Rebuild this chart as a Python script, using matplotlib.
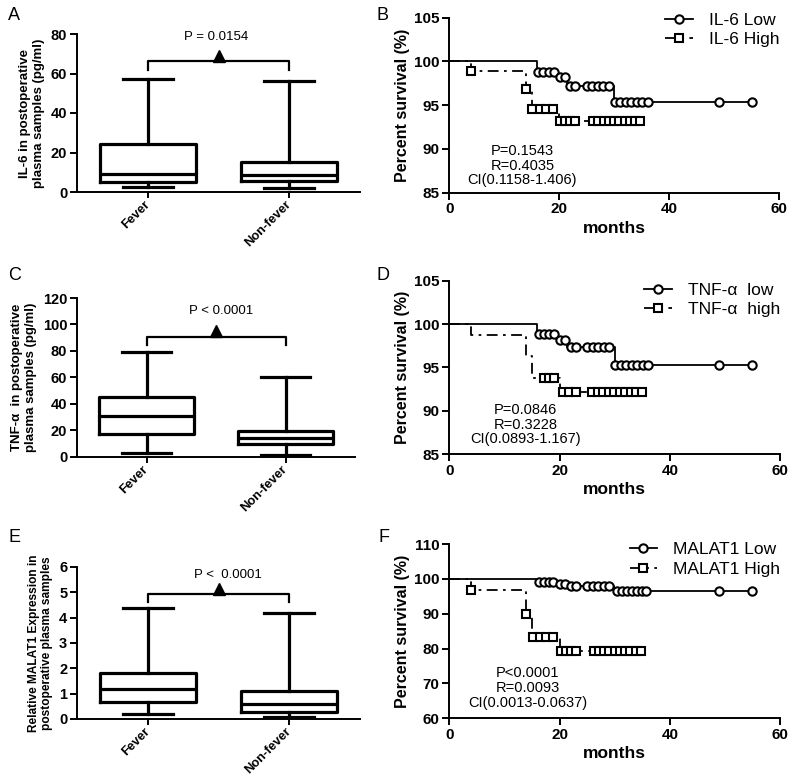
import matplotlib
matplotlib.use('Agg')
import matplotlib.pyplot as plt
import matplotlib.transforms as mtransforms
from matplotlib.lines import Line2D
import numpy as np

plt.rcParams['font.family'] = ['Liberation Sans', 'DejaVu Sans']

W, H = 796, 778

# ---- box plot data (Fever, Non-fever) ----
groups = ['Fever', 'Non-fever']

il6_lo = [2.5, 1.9]
il6_q1 = [5.1, 5.4]
il6_med = [9.2, 8.5]
il6_q3 = [24.4, 15.1]
il6_hi = [57, 56]

tnf_lo = [2.5, 1.5]
tnf_q1 = [17.5, 9.3]
tnf_med = [30.5, 14.3]
tnf_q3 = [45.5, 19.5]
tnf_hi = [79.5, 60]

malat_lo = [0.21, 0.09]
malat_q1 = [0.69, 0.29]
malat_med = [1.2, 0.6]
malat_q3 = [1.81, 1.12]
malat_hi = [4.4, 4.2]

# ---- survival data: event times, survival after event, marked (censored) times ----
il6_low_t = [16, 19.6, 21.4, 30]
il6_low_s = [98.8, 98.2, 97.2, 95.4]
il6_low_c = [16.2, 17.1, 18.1, 19.0, 20.2, 21.0, 22.0, 22.9, 25, 26, 27, 28, 29,
             30.1, 31.1, 32.1, 33.1, 34.1, 35.1, 36.1, 49, 55]
il6_high_t = [4, 14, 15, 20]
il6_high_s = [98.9, 96.8, 94.6, 93.2]
il6_high_c = [4, 14, 15.1, 16.4, 17.6, 18.9, 20.2, 21.1, 22.0, 22.9,
              26.2, 27.1, 28.1, 29.0, 30.0, 30.9, 31.9, 32.8, 33.8, 34.7]

tnf_low_t = [16, 19.6, 21.4, 30]
tnf_low_s = [98.85, 98.15, 97.35, 95.3]
tnf_low_c = [16.2, 17.1, 18.1, 19.0, 20.1, 21.0, 22.0, 22.9, 25, 26, 27, 28, 29,
             30.1, 31.1, 32.1, 33.1, 34.1, 35.1, 36.1, 49, 55]
tnf_high_t = [4, 14, 15, 20]
tnf_high_s = [98.75, 96.3, 93.75, 92.15]
tnf_high_c = [17.1, 18.0, 19.0, 20.6, 21.8, 23.0,
              25.9, 26.9, 27.9, 28.9, 29.9, 30.9, 31.9, 32.9, 33.9, 35.0]

malat_low_t = [16, 19.6, 21.4, 29.8]
malat_low_s = [99.1, 98.55, 98.0, 96.6]
malat_low_c = [16.2, 17.1, 18.0, 18.9, 20.0, 21.0, 22.0, 22.9, 25, 26, 27, 28, 29,
               30.4, 31.3, 32.2, 33.1, 34.0, 34.9, 35.7, 49, 55]
malat_high_t = [4, 14, 15, 20]
malat_high_s = [96.75, 90.0, 83.4, 79.2]
malat_high_c = [4, 14, 15.1, 16.4, 17.6, 18.9, 20.2, 21.1, 22.0, 22.9,
                26.2, 27.1, 28.1, 29.0, 30.0, 30.9, 31.9, 32.8, 33.8, 34.7]

fig = plt.figure(figsize=(W / 100, H / 100), dpi=100)


def px_axes(x0, y_top, x1, y_bot):
    # axes from pixel box of the reference
    return fig.add_axes([x0 / W, 1 - y_bot / H, (x1 - x0) / W, (y_bot - y_top) / H])


def bold_ticks(ax, size):
    for lbl in ax.get_xticklabels() + ax.get_yticklabels():
        lbl.set_fontweight('bold')
        lbl.set_fontsize(size)


def box_panel(ax, lo, q1, med, q3, hi, ymax, ystep, ylabel, ylabel_size,
              ptext, bracket_y, drop, text_x, text_y):
    stats = [dict(whislo=a, q1=b, med=c, q3=d, whishi=e, fliers=[])
             for a, b, c, d, e in zip(lo, q1, med, q3, hi)]
    lp = dict(lw=2.3, color='black')
    ax.bxp(stats, positions=[0, 1], widths=0.68, capwidths=0.35, showfliers=False,
           boxprops=lp, medianprops=lp, whiskerprops=lp, capprops=lp)
    ax.set_xlim(-0.5, 1.5)
    ax.set_ylim(0, ymax)
    ax.set_yticks(np.arange(0, ymax + ystep / 2, ystep))
    ax.set_xticks([0, 1])
    ax.set_xticklabels(groups, rotation=45, ha='right', va='center', rotation_mode='anchor')
    for s in ['top', 'right']:
        ax.spines[s].set_visible(False)
    for s in ['left', 'bottom']:
        ax.spines[s].set_linewidth(1.4)
    ax.tick_params(direction='out', length=5, width=1.4, pad=2)
    ax.tick_params(axis='x', length=4, pad=4)
    bold_ticks(ax, 10.5)
    for lbl in ax.get_xticklabels():
        lbl.set_fontsize(9.2)
    ax.set_ylabel(ylabel, fontsize=ylabel_size, fontweight='bold', labelpad=4)
    # significance bracket
    ax.plot([0, 0, 1, 1], [bracket_y - drop, bracket_y, bracket_y, bracket_y - drop],
            color='black', lw=1.6, clip_on=False)
    tri = mtransforms.offset_copy(ax.transData, fig=fig, y=5.5, units='dots')
    ax.plot([0.5], [bracket_y], marker='^', ms=8, color='black', transform=tri, clip_on=False)
    ax.text(text_x, text_y, ptext, ha='center', va='center', fontsize=9.5)


def step_y(t_events, s_levels, times):
    levels = np.r_[100.0, s_levels]
    return levels[np.searchsorted(t_events, times, side='right')]


def surv_panel(ax, low_t, low_s, low_c, high_t, high_s, high_c, ymin, ymax, ystep,
               names, stat, stat_xy, leg_y):
    dash = (0, (6, 3, 1.5, 3))
    mk = dict(ms=6, mfc='white', mec='black', mew=1.5)
    ax.step(np.r_[0, low_t, max(low_c)], np.r_[100, low_s, low_s[-1]], where='post',
            color='black', lw=1.3, zorder=2)
    ax.step(np.r_[0, high_t, max(high_c)], np.r_[100, high_s, high_s[-1]], where='post',
            color='black', lw=1.3, ls=dash, zorder=2)
    ax.plot(low_c, step_y(low_t, low_s, low_c), 'o', zorder=3, clip_on=False, **mk)
    ax.plot(high_c, step_y(high_t, high_s, high_c), 's', zorder=3, clip_on=False, **mk)
    ax.set_xlim(0, 60)
    ax.set_ylim(ymin, ymax)
    ax.set_xticks([0, 20, 40, 60])
    ax.set_yticks(np.arange(ymin, ymax + ystep / 2, ystep))
    for s in ['top', 'right']:
        ax.spines[s].set_visible(False)
    for s in ['left', 'bottom']:
        ax.spines[s].set_linewidth(1.4)
    ax.tick_params(direction='out', length=5, width=1.4, pad=2)
    bold_ticks(ax, 11)
    ax.set_xlabel('months', fontsize=12.5, fontweight='bold', labelpad=3)
    ax.set_ylabel('Percent survival (%)', fontsize=11.5, fontweight='bold', labelpad=3)
    handles = [
        Line2D([], [], color='black', lw=1.3, marker='o', **mk),
        Line2D([], [], color='black', lw=1.3, ls=dash, marker='s', **mk),
    ]
    ax.legend(handles, names, loc='upper right', bbox_to_anchor=(1.0, leg_y), frameon=False,
              fontsize=12.5, handlelength=1.6, handletextpad=0.9, labelspacing=0.25,
              borderaxespad=0, borderpad=0)
    ax.text(stat_xy[0], stat_xy[1], stat, ha='center', va='center', fontsize=10.5, linespacing=1.05)


axA = px_axes(77, 34, 360, 192)
box_panel(axA, il6_lo, il6_q1, il6_med, il6_q3, il6_hi, 80, 20,
          'IL-6 in postoperative\nplasma samples (pg/ml)', 9.5,
          'P = 0.0154', 66.2, 4.5, 0.48, 78.5)

axC = px_axes(77, 298, 355, 456.7)
box_panel(axC, tnf_lo, tnf_q1, tnf_med, tnf_q3, tnf_hi, 120, 20,
          'TNF-α  in postoperative\nplasma samples (pg/ml)', 9.5,
          'P < 0.0001', 90.7, 6.0, 0.54, 110)

axE = px_axes(77, 567, 360, 719)
box_panel(axE, malat_lo, malat_q1, malat_med, malat_q3, malat_hi, 6, 1,
          'Relative MALAT1 Expression in\npostoperative plasma samples', 8.6,
          'P <  0.0001', 4.92, 0.3, 0.57, 5.7)

axB = px_axes(449.3, 17.7, 779.3, 192.7)
surv_panel(axB, il6_low_t, il6_low_s, il6_low_c, il6_high_t, il6_high_s, il6_high_c,
           85, 105, 5, ['IL-6 Low', 'IL-6 High'],
           'P=0.1543\nR=0.4035\nCI(0.1158-1.406)', (13.3, 88.1), 1.03)

axD = px_axes(449.3, 280.7, 780, 454.3)
surv_panel(axD, tnf_low_t, tnf_low_s, tnf_low_c, tnf_high_t, tnf_high_s, tnf_high_c,
           85, 105, 5, ['TNF-α  low', 'TNF-α  high'],
           'P=0.0846\nR=0.3228\nCI(0.0893-1.167)', (13.8, 88.4), 0.99)

axF = px_axes(449.3, 544, 780, 718.3)
surv_panel(axF, malat_low_t, malat_low_s, malat_low_c, malat_high_t, malat_high_s, malat_high_c,
           60, 110, 10, ['MALAT1 Low', 'MALAT1 High'],
           'P<0.0001\nR=0.0093\nCI(0.0013-0.0637)', (14.2, 68.7), 1.01)

# panel letters
for letter, x, y in [('A', 14, 16), ('B', 383, 16), ('C', 15, 275),
                     ('D', 383, 276), ('E', 14, 538), ('F', 384, 538)]:
    fig.text(x / W, 1 - y / H, letter, fontsize=13, ha='center', va='center')

fig.savefig('out.png', dpi=100)
